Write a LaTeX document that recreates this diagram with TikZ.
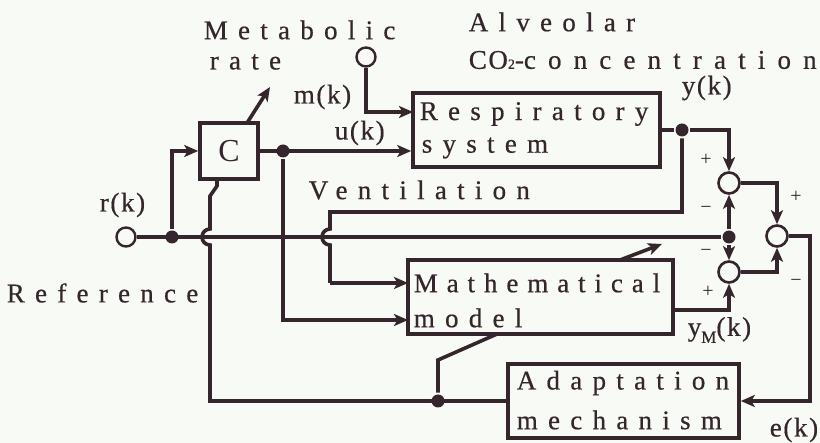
\documentclass[tikz,border=0pt]{standalone}
\usepackage{fontspec}
\setmainfont{Liberation Serif}
\newfontfamily\widefont[LetterSpace=38,FakeBold=0.5]{Liberation Serif}
\newfontfamily\tightfont[LetterSpace=33,FakeBold=0.5]{Liberation Serif}
\newfontfamily\concfont[LetterSpace=45,FakeBold=0.5]{Liberation Serif}
\newfontfamily\narrowfont[LetterSpace=6,FakeBold=0.5]{Liberation Serif}
\usetikzlibrary{arrows.meta}
\definecolor{ink}{RGB}{52,38,44}
\definecolor{paper}{RGB}{248,250,245}
\begin{document}
\begin{tikzpicture}[x=1pt,y=-1pt,line width=3.6pt,draw=ink,
  box/.style={draw,rectangle,inner sep=0pt},
  txt/.style={anchor=west,inner sep=0pt,text=ink,font=\widefont\fontsize{27}{27}\selectfont},
  lbl/.style={anchor=west,inner sep=0pt,text=ink,font=\narrowfont\fontsize{27}{27}\selectfont},
  sgn/.style={inner sep=0pt,text=ink,font=\fontsize{20}{20}\selectfont},
  sumc/.style={circle,draw,line width=2.6pt,minimum size=21pt,inner sep=0pt,fill=paper},
  term/.style={circle,draw,line width=2.4pt,minimum size=19pt,inner sep=0pt,fill=paper},
  dot/.style={circle,fill=ink,minimum size=13pt,inner sep=0pt},
  arr/.style={-{Stealth[length=14pt,width=12pt,inset=3.5pt]}}]
\fill[paper] (0,0) rectangle (820,443);
\useasboundingbox (0,0) rectangle (820,443);
% blocks
\node[box,minimum width=58pt,minimum height=56pt,text=ink,font=\fontsize{32}{32}\selectfont] (C) at (229,151) {C};
\node[box,minimum width=247pt,minimum height=74pt] (resp) at (536.5,130) {};
\node[box,minimum width=265pt,minimum height=74pt] (model) at (540.5,297) {};
\node[box,minimum width=231pt,minimum height=74pt] (adapt) at (623.5,401) {};
% terminals, junctions, sums
\node[term] (rin) at (126,237) {};
\node[term] (min) at (366,57) {};
\node[dot] (j1) at (172,237) {};
\node[dot] (j2) at (283,151) {};
\node[dot] (j3) at (682,130) {};
\node[dot] (j4) at (729,237) {};
\node[dot] (j5) at (438,401) {};
\node[sumc] (s1) at (729,183) {};
\node[sumc] (s3) at (729,272) {};
\node[sumc] (s2) at (777,236) {};
% helper coordinates
\coordinate (rm) at (413,112);
\coordinate (cb1) at (217,186);
\coordinate (cb2) at (210,196);
\coordinate (hopA) at (210,229);
\coordinate (hopB) at (330,229);
\coordinate (yk1) at (682,212);
\coordinate (mi1) at (408,283);
\coordinate (mi2) at (408,320);
\coordinate (mo) at (673,310);
\coordinate (er) at (810,236);
\coordinate (p1) at (438,360);
\coordinate (p2) at (497,334);
\coordinate (p3) at (620,260);
\coordinate (p4) at (662,244);
\coordinate (c1) at (247,123);
\coordinate (c2) at (270,87);
% connectors
\draw (rin) -- (j4);
\draw[arr] (j1) |- (C.west);
\draw[arr] (C.east) -- (C.east -| resp.west);
\draw[arr] (min) |- (rm);
\draw (C.south -| cb1) -- (cb1) -- (cb2) -- (hopA)
  arc[start angle=90,end angle=270,radius=8pt] -- (hopA |- adapt.west) -- (adapt.west);
\draw (j5) -- (p1) -- (p2);
\draw[arr] (p3) -- (p4);
\draw[arr] (c1) -- (c2);
\draw (resp.east) -- (j3);
\draw[arr] (j3) -| (s1.north);
\draw (j3) -- (yk1) -- (yk1 -| hopB) -- (hopB)
  arc[start angle=90,end angle=270,radius=8pt] -- (hopB |- mi1);
\draw[arr] (hopB |- mi1) -- (mi1);
\draw[arr] (j2) |- (mi2);
\draw[arr] (j4) -- (s1.south);
\draw[arr] (j4) -- (s3.north);
\draw[arr] (mo) -| (s3.south);
\draw[arr] (s1.east) -| (s2.north);
\draw[arr] (s3.east) -| (s2.south);
\draw[arr] (s2.east) -- (er) |- (adapt.east);
% texts
\node[txt] at (202,30) {Metabolic};
\node[txt] at (208,62) {rate};
\node[lbl] at (292,97) {m(k)};
\node[lbl] at (333,133) {u(k)};
\node[txt] at (467,22) {Alveolar};
\node[lbl] at (467,60) {CO{\fontsize{14}{14}\selectfont 2}-{\concfont concentration}};
\node[lbl] at (680,88) {y(k)};
\node[txt] at (307,190) {Ventilation};
\node[lbl] at (98,205) {r(k)};
\node[txt] at (5,293) {Reference};
\node[txt] at (418,114) {Respiratory};
\node[txt] at (420,148) {system};
\node[txt,font=\tightfont\fontsize{27}{27}\selectfont] at (412,283) {Mathematical};
\node[txt] at (412,318) {model};
\node[txt] at (515,383) {Adaptation};
\node[txt] at (515,420) {mechanism};
\node[lbl] at (686,330) {y\raisebox{-7pt}{\fontsize{17}{17}\selectfont M}(k)};
\node[lbl] at (768,430) {e(k)};
\node[sgn] at (706,160) {+};
\node[sgn] at (706,210) {\textminus};
\node[sgn] at (706,253) {\textminus};
\node[sgn] at (708,292) {+};
\node[sgn] at (796,197) {+};
\node[sgn] at (796,283) {\textminus};
\end{tikzpicture}
\end{document}
